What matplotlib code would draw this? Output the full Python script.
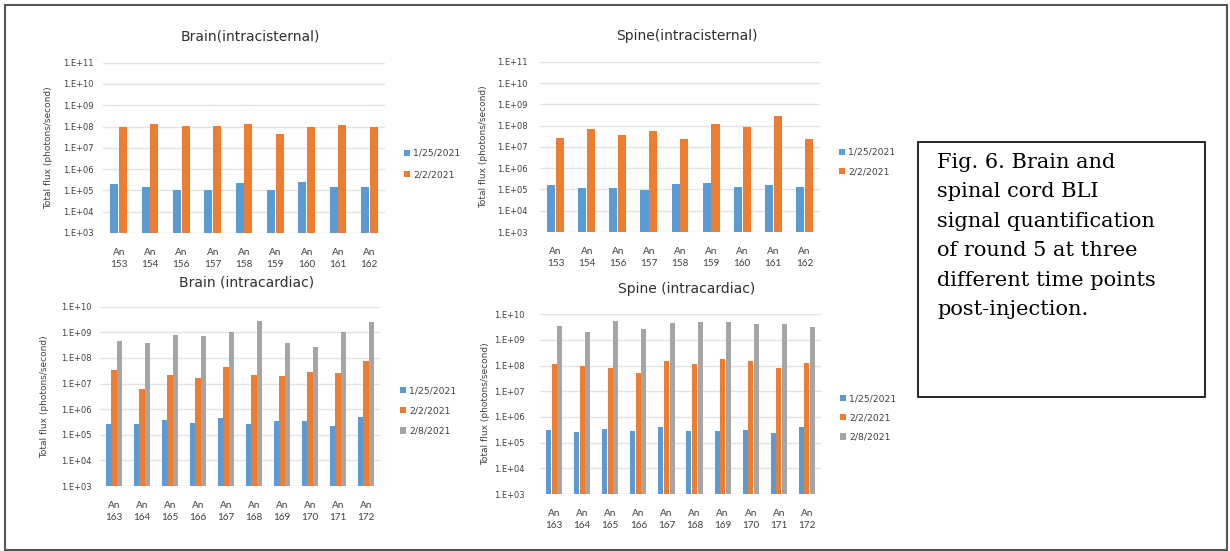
import matplotlib
matplotlib.use("Agg")
import matplotlib.pyplot as plt
from matplotlib.patches import Rectangle

W, H = 1230, 551

# data
ic_animals = ['153', '154', '156', '157', '158', '159', '160', '161', '162']
ic_dates = ['1/25/2021', '2/2/2021']
brain_ic_0125 = [2.0e5, 1.5e5, 1.0e5, 1.1e5, 2.2e5, 1.1e5, 2.5e5, 1.4e5, 1.4e5]
brain_ic_0202 = [9.3e7, 1.3e8, 1.05e8, 1.1e8, 1.3e8, 4.4e7, 1.0e8, 1.15e8, 1.0e8]
spine_ic_0125 = [1.57e5, 1.18e5, 1.2e5, 9.5e4, 1.9e5, 2.0e5, 1.35e5, 1.57e5, 1.35e5]
spine_ic_0202 = [2.6e7, 6.8e7, 3.7e7, 5.9e7, 2.4e7, 1.17e8, 8.5e7, 2.8e8, 2.4e7]

icd_animals = ['163', '164', '165', '166', '167', '168', '169', '170', '171', '172']
icd_dates = ['1/25/2021', '2/2/2021', '2/8/2021']
brain_icd_0125 = [2.6e5, 2.6e5, 3.8e5, 2.9e5, 4.5e5, 2.6e5, 3.3e5, 3.3e5, 2.3e5, 4.8e5]
brain_icd_0202 = [3.3e7, 6.3e6, 2.1e7, 1.65e7, 4.5e7, 2.2e7, 2.0e7, 2.9e7, 2.6e7, 7.4e7]
brain_icd_0208 = [4.6e8, 3.9e8, 7.8e8, 7.4e8, 1.05e9, 2.7e9, 3.8e8, 2.75e8, 1.0e9, 2.45e9]
spine_icd_0125 = [3.05e5, 2.5e5, 3.45e5, 2.9e5, 3.9e5, 2.9e5, 2.9e5, 3.05e5, 2.3e5, 4.1e5]
spine_icd_0202 = [1.15e8, 1.0e8, 7.8e7, 5.0e7, 1.47e8, 1.15e8, 1.86e8, 1.47e8, 7.8e7, 1.3e8]
spine_icd_0208 = [3.6e9, 2.05e9, 5.3e9, 2.7e9, 4.45e9, 4.9e9, 4.9e9, 4.2e9, 4.2e9, 3.2e9]

caption = ["Fig. 6. Brain and", "spinal cord BLI", "signal quantification",
           "of round 5 at three", "different time points", "post-injection."]

colors = ['#5B9BD5', '#ED7D31', '#A5A5A5']
wide = ['DejaVu Sans']
narrow = ['Lato', 'DejaVu Sans']

fig = plt.figure(figsize=(W / 100, H / 100), dpi=100)


def px_axes(x0, y0, x1, y1):
    return fig.add_axes([x0 / W, 1 - y1 / H, (x1 - x0) / W, (y1 - y0) / H])


def draw_chart(box, title, title_xy, animals, series, dates, top_exp,
               width, offsets, tick_pad, ylab_x, legend_xy, legend_sp):
    ax = px_axes(*box)
    ax.set_yscale('log')
    x = range(len(animals))
    for vals, c, off, d in zip(series, colors, offsets, dates):
        ax.bar([i + off for i in x], vals, width=width, color=c, label=d,
               zorder=3)
    ax.set_xlim(-0.5, len(animals) - 0.5)
    ax.set_ylim(1e3, 10 ** top_exp)
    exps = list(range(3, top_exp + 1))
    ax.set_yticks([10 ** e for e in exps])
    ax.set_yticklabels(['1.E+%02d' % e for e in exps])
    ax.minorticks_off()
    ax.set_xticks(list(x))
    ax.set_xticklabels(['An\n' + a for a in animals], linespacing=1.45)
    ax.tick_params(axis='y', length=0, pad=tick_pad, labelsize=6,
                   labelcolor='#404040')
    ax.tick_params(axis='x', length=0, pad=11, labelsize=7.2,
                   labelcolor='#404040')
    for lab in ax.get_yticklabels():
        lab.set_family(wide)
    for lab in ax.get_xticklabels():
        lab.set_family(narrow)
    ax.grid(axis='y', color='#e3e3e3', lw=1, zorder=0)
    for s in ax.spines.values():
        s.set_visible(False)
    ax.set_ylabel('Total flux (photons/second)', fontsize=6.5, color='#404040',
                  family=wide)
    ax.yaxis.set_label_coords((ylab_x - box[0]) / (box[2] - box[0]), 0.5)
    fig.text(title_xy[0] / W, 1 - title_xy[1] / H, title, ha='center',
             va='center', fontsize=10, color='#303030', family=wide)
    ax.legend(loc='center left', bbox_to_anchor=(legend_xy[0] / W, 1 - legend_xy[1] / H),
              bbox_transform=fig.transFigure, frameon=False, borderpad=0,
              borderaxespad=0, handlelength=0.65, handleheight=0.65,
              handletextpad=0.3, labelspacing=legend_sp,
              prop={'family': wide, 'size': 6.7}, labelcolor='#404040')


draw_chart((103, 62.7, 385, 233), 'Brain(intracisternal)', (250, 37),
           ic_animals, [brain_ic_0125, brain_ic_0202], ic_dates, 11,
           0.26, [-0.14, 0.14], 7, 53, (404, 164), 1.3)
draw_chart((540, 62, 820, 232), 'Spine(intracisternal)', (687, 36),
           ic_animals, [spine_ic_0125, spine_ic_0202], ic_dates, 11,
           0.26, [-0.14, 0.14], 9, 488, (839, 162), 1.1)
draw_chart((100, 306.7, 380, 486), 'Brain (intracardiac)', (247, 283),
           icd_animals, [brain_icd_0125, brain_icd_0202, brain_icd_0208],
           icd_dates, 10, 0.18, [-0.2, 0.0, 0.2], 6, 49, (400, 411), 1.2)
draw_chart((540, 314.3, 821, 494), 'Spine (intracardiac)', (687, 289),
           icd_animals, [spine_icd_0125, spine_icd_0202, spine_icd_0208],
           icd_dates, 10, 0.18, [-0.2, 0.0, 0.2], 11, 490, (840, 418), 1.1)

# caption box
fig.patches.append(Rectangle((918 / W, 1 - 397 / H), (1205 - 918) / W, (397 - 142) / H,
                             transform=fig.transFigure, fill=False,
                             edgecolor='black', lw=1.2))
for i, line in enumerate(caption):
    fig.text(937 / W, 1 - (168 + i * 29.4) / H, line, ha='left', va='baseline',
             fontsize=15, family=['DejaVu Serif'], color='black')

# outer frame
fig.patches.append(Rectangle((5 / W, 1 - 550 / H), (1227 - 5) / W, (550 - 5) / H,
                             transform=fig.transFigure, fill=False,
                             edgecolor='#555555', lw=1.5))

fig.savefig('out.png', dpi=100)
